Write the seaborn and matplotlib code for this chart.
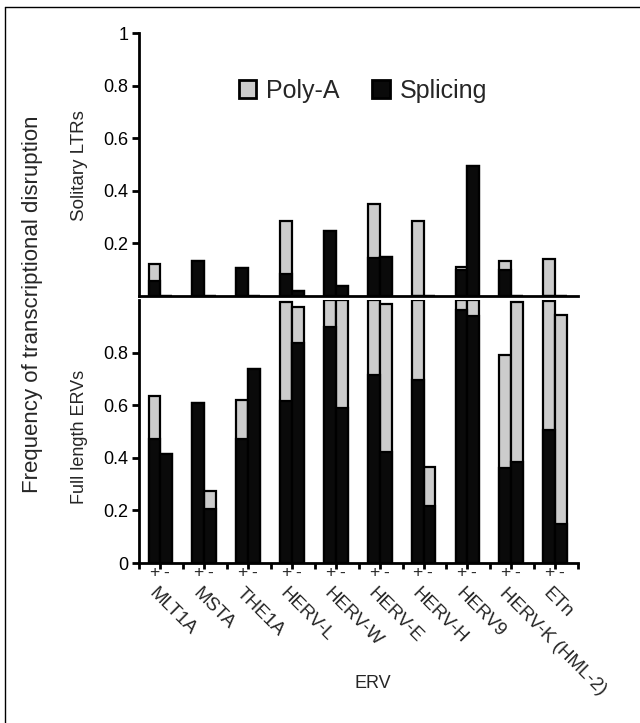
import matplotlib
matplotlib.use("Agg")
import matplotlib.pyplot as plt
from matplotlib.patches import Patch
from matplotlib.lines import Line2D
import seaborn as sns
import pandas as pd

sns.set_style("white")
plt.rcParams['font.family'] = ['Liberation Sans', 'DejaVu Sans']

categories = ['MLT1A', 'MSTA', 'THE1A', 'HERV-L', 'HERV-W', 'HERV-E',
              'HERV-H', 'HERV9', 'HERV-K (HML-2)', 'ETn']
strands = ['+', '-']

# Solitary LTRs
ltr_plus_splicing = [0.056, 0.132, 0.107, 0.083, 0.247, 0.145, 0.0, 0.10, 0.10, 0.0]
ltr_plus_polya = [0.064, 0.0, 0.0, 0.202, 0.0, 0.203, 0.285, 0.01, 0.032, 0.142]
ltr_minus_splicing = [0.0, 0.0, 0.0, 0.019, 0.037, 0.149, 0.0, 0.496, 0.0, 0.0]
ltr_minus_polya = [0.0, 0.0, 0.0, 0.0, 0.0, 0.0, 0.0, 0.0, 0.0, 0.0]

# Full length ERVs
erv_plus_splicing = [0.47, 0.61, 0.47, 0.615, 0.896, 0.716, 0.697, 0.963, 0.361, 0.507]
erv_plus_polya = [0.164, 0.0, 0.149, 0.376, 0.104, 0.284, 0.303, 0.037, 0.429, 0.488]
erv_minus_splicing = [0.414, 0.205, 0.739, 0.837, 0.589, 0.421, 0.215, 0.938, 0.383, 0.148]
erv_minus_polya = [0.0, 0.067, 0.0, 0.136, 0.411, 0.565, 0.149, 0.062, 0.608, 0.794]

legend_labels = ['Poly-A', 'Splicing']
top_ticks = [0.2, 0.4, 0.6, 0.8, 1.0]
top_ticklabels = ['0.2', '0.4', '0.6', '0.8', '1']
bottom_ticks = [0, 0.2, 0.4, 0.6, 0.8]
bottom_ticklabels = ['0', '0.2', '0.4', '0.6', '0.8']

GRAY = '#cccccc'
BLACK = '#0a0a0a'


def make_df(ps, pp, ms, mp):
    rows = []
    for i, c in enumerate(categories):
        rows.append({'erv': c, 'strand': '+', 'splicing': ps[i], 'total': ps[i] + pp[i]})
        rows.append({'erv': c, 'strand': '-', 'splicing': ms[i], 'total': ms[i] + mp[i]})
    return pd.DataFrame(rows)


df_ltr = make_df(ltr_plus_splicing, ltr_plus_polya, ltr_minus_splicing, ltr_minus_polya)
df_erv = make_df(erv_plus_splicing, erv_plus_polya, erv_minus_splicing, erv_minus_polya)

fig = plt.figure(figsize=(6.4, 7.23), dpi=100)
W, H = 640, 723
left = 139.3 / W
width = (578 - 139.3) / W
ax_top = fig.add_axes([left, 1 - 296 / H, width, 263 / H])
ax_bot = fig.add_axes([left, 1 - 563 / H, width, 263 / H])

n = len(categories)
for ax, df in [(ax_top, df_ltr), (ax_bot, df_erv)]:
    sns.barplot(data=df, x='erv', y='total', hue='strand', order=categories,
                hue_order=strands, palette={'+': GRAY, '-': GRAY},
                width=0.54, gap=0, edgecolor='black', linewidth=1.6,
                errorbar=None, legend=False, ax=ax)
    sns.barplot(data=df, x='erv', y='splicing', hue='strand', order=categories,
                hue_order=strands, palette={'+': BLACK, '-': BLACK},
                width=0.54, gap=0, edgecolor='black', linewidth=1.6,
                errorbar=None, legend=False, ax=ax)
    ax.set_xlim(-0.48, n - 0.48)
    ax.set_ylim(0, 1)
    ax.set_xlabel('')
    ax.set_ylabel('')
    for s in ['top', 'right']:
        ax.spines[s].set_visible(False)
    for s in ['left', 'bottom']:
        ax.spines[s].set_linewidth(2)
        ax.spines[s].set_color('black')
    ax.tick_params(axis='y', direction='out', length=5, width=2, labelsize=13,
                   pad=3, left=True, colors='black')

# top axis
ax_top.set_yticks(top_ticks)
ax_top.set_yticklabels(top_ticklabels)
ax_top.set_xticks([])

# bottom axis
ax_bot.set_yticks(bottom_ticks)
ax_bot.set_yticklabels(bottom_ticklabels)
ax_bot.set_xticks([i - 0.48 for i in range(n + 1)])
ax_bot.set_xticks(list(range(n)), minor=True)
ax_bot.set_xticklabels([])
ax_bot.tick_params(axis='x', which='both', direction='out', length=4, width=2,
                   bottom=True, colors='black')

for i, c in enumerate(categories):
    ax_bot.annotate('+', xy=(i - 0.135, 0), xycoords=('data', 'axes fraction'),
                    xytext=(0, -10), textcoords='offset pixels', ha='center',
                    va='center', fontsize=12.5)
    ax_bot.annotate('-', xy=(i + 0.135, 0), xycoords=('data', 'axes fraction'),
                    xytext=(0, -10), textcoords='offset pixels', ha='center',
                    va='center', fontsize=12.5)
    ax_bot.annotate(c, xy=(i, 0), xycoords=('data', 'axes fraction'),
                    xytext=(-3, -22), textcoords='offset pixels', ha='left',
                    va='top', rotation=-45, rotation_mode='anchor', fontsize=13.5)

handles = [Patch(facecolor=GRAY, edgecolor='black', linewidth=2),
           Patch(facecolor=BLACK, edgecolor='black', linewidth=2)]
ax_top.legend(handles, legend_labels, loc='center', bbox_to_anchor=(0.51, 0.78),
              ncol=2, frameon=False, fontsize=18, handlelength=0.7,
              handleheight=0.7, handletextpad=0.4, columnspacing=1.3)

fig.text(33 / W, 1 - 304 / H, 'Frequency of transcriptional disruption',
         rotation=90, ha='center', va='center', fontsize=16)
fig.text(80 / W, 1 - 166 / H, 'Solitary LTRs', rotation=90, ha='center',
         va='center', fontsize=13.5)
fig.text(80 / W, 1 - 437 / H, 'Full length ERVs', rotation=90, ha='center',
         va='center', fontsize=13)
fig.text(373 / W, 1 - 683 / H, 'ERV', ha='center', va='center', fontsize=13)

# outer frame (top and left edges)
fig.add_artist(Line2D([5 / W, 5 / W], [0, 1 - 7 / H], transform=fig.transFigure,
                      color='black', linewidth=1))
fig.add_artist(Line2D([5 / W, 1], [1 - 7 / H, 1 - 7 / H], transform=fig.transFigure,
                      color='black', linewidth=1))

fig.savefig('out.png', dpi=100)
